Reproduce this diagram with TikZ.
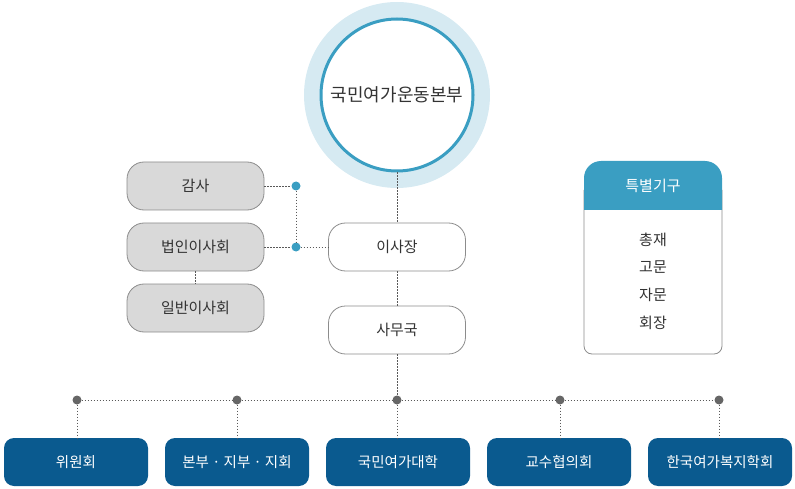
\documentclass[tikz,border=0pt]{standalone}
\usepackage{fontspec}
\setmainfont{Noto Sans CJK KR}
\begin{document}
\begin{tikzpicture}[x=1pt,y=-1pt,
  graybox/.style={draw=black!45, line width=0.8pt, fill=black!15, rounded corners=17pt, minimum width=137pt, minimum height=48pt, font=\fontsize{15}{18}\selectfont, text=black!80},
  whitebox/.style={draw=black!45, line width=0.8pt, fill=white, rounded corners=17pt, minimum width=137pt, minimum height=48pt, font=\fontsize{15}{18}\selectfont, text=black!80},
  bluebox/.style={fill=bdark, rounded corners=10pt, minimum width=144pt, minimum height=48pt, font=\fontsize{14.5}{17}\selectfont, text=white},
  conn/.style={dash pattern=on 1.5pt off 1.5pt, draw=black!65, line width=0.8pt},
  bdot/.style={circle, fill=bmid, inner sep=0pt, minimum size=9pt},
  gdot/.style={circle, fill=black!60, inner sep=0pt, minimum size=9pt},
  sptxt/.style={font=\fontsize{15}{18}\selectfont, text=black!80}
]
\definecolor{bdark}{HTML}{0A5A8F}
\definecolor{bmid}{HTML}{3A9EC2}
\definecolor{blight}{HTML}{D6EAF2}
\useasboundingbox (0,0) rectangle (795,489);
% top circle
\fill[blight] (397,95) circle (93);
\node[circle, draw=bmid, line width=3pt, fill=white, minimum size=152pt, inner sep=0pt, font=\fontsize{18}{22}\selectfont, text=black!80] (top) at (397,95) {국민여가운동본부};
% left boxes
\node[graybox] (gamsa) at (195.5,186) {감사};
\node[graybox] (bub) at (195.5,247) {법인이사회};
\node[graybox] (ilban) at (195.5,308) {일반이사회};
% middle
\node[whitebox] (isa) at (397,247) {이사장};
\node[whitebox] (samu) at (397,330) {사무국};
% dots
\node[bdot] (d1) at (296,186) {};
\node[bdot] (d2) at (296,247) {};
\node[gdot] (g1) at (77,400) {};
\node[gdot] (g2) at (237,400) {};
\node[gdot] (g3) at (397,400) {};
\node[gdot] (g4) at (560,400) {};
\node[gdot] (g5) at (719,400) {};
% bottom boxes
\node[bluebox] (b1) at (76,462) {위원회};
\node[bluebox] (b2) at (237,462) {본부 · 지부 · 지회};
\node[bluebox] (b3) at (398,462) {국민여가대학};
\node[bluebox] (b4) at (559,462) {교수협의회};
\node[bluebox] (b5) at (720,462) {한국여가복지학회};
% special box
\draw[draw=black!45, line width=0.8pt, fill=white, rounded corners=8pt] (584,190) -- (584,354) -- (722,354) -- (722,190);
\fill[bmid] (584,210) -- (584,178) arc[start angle=180, end angle=270, radius=17] -- (705,161) arc[start angle=270, end angle=360, radius=17] -- (722,210) -- cycle;
\node[font=\fontsize{15}{18}\selectfont, text=white] (sp) at (653,186) {특별기구};
\node[sptxt] (s1) at (653,240) {총재};
\node[sptxt] (s2) at (653,267) {고문};
\node[sptxt] (s3) at (653,295) {자문};
\node[sptxt] (s4) at (653,323) {회장};
% connectors
\draw[conn] (gamsa.east) -- (d1);
\draw[conn] (bub.east) -- (d2);
\draw[conn] (d2) -- (isa.west);
\draw[conn] (d1) -- (d2);
\draw[conn] (bub.south) -- (ilban.north);
\draw[conn] (top.south) -- (isa.north);
\draw[conn] (isa.south) -- (samu.north);
\draw[conn] (samu.south) -- (g3);
\draw[conn] (g1) -- (g2) -- (g3) -- (g4) -- (g5);
\draw[conn] (g1) -- (g1 |- b1.north);
\draw[conn] (g2) -- (g2 |- b2.north);
\draw[conn] (g3) -- (g3 |- b3.north);
\draw[conn] (g4) -- (g4 |- b4.north);
\draw[conn] (g5) -- (g5 |- b5.north);
\end{tikzpicture}
\end{document}
